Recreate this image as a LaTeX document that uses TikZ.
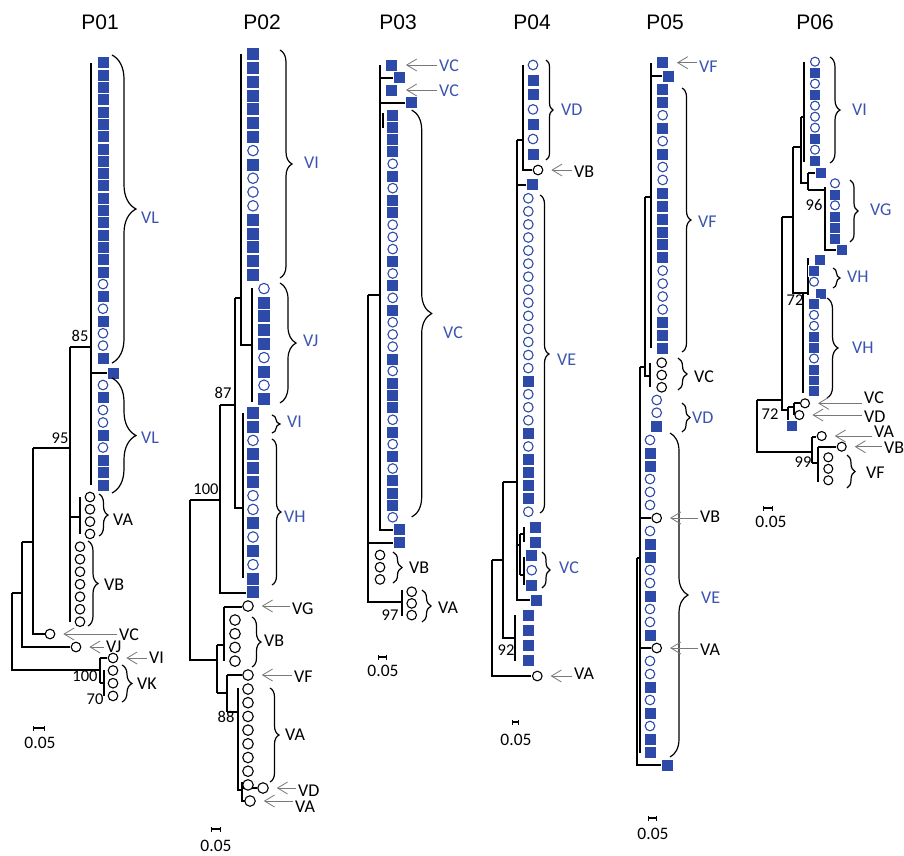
\documentclass[tikz,border=0pt]{standalone}
\usepackage{fontspec}
\setmainfont{Carlito}
\newfontfamily\titlefont{Liberation Sans}
\usetikzlibrary{arrows.meta,decorations.pathreplacing}
\definecolor{pblue}{RGB}{46,74,168}
\definecolor{lblue}{RGB}{58,84,176}
\definecolor{agray}{RGB}{120,120,120}

\tikzset{
leafS/.style={rectangle,fill=pblue,draw=white,line width=0.5pt,minimum size=12pt,inner sep=0pt},
leafC/.style={circle,fill=white,draw=pblue,line width=1.1pt,minimum size=9.6pt,inner sep=0pt},
leafK/.style={circle,fill=white,draw=black,line width=1.1pt,minimum size=9.6pt,inner sep=0pt},
br/.style={line width=1.3pt},
cbr/.style={decorate,decoration={brace,amplitude=#1},line width=1.2pt},
blab/.style={anchor=west,inner sep=0pt,text=lblue,font=\fontsize{18}{18}\selectfont},
klab/.style={anchor=west,inner sep=0pt,font=\fontsize{18}{18}\selectfont},
boot/.style={inner sep=0pt,font=\fontsize{16.5}{16.5}\selectfont},
ptr/.style={draw=agray,line width=0.8pt,-{Straight Barb[length=10pt,width=12pt]},shorten <=2pt,shorten >=8pt},
ttl/.style={inner sep=0pt,font=\titlefont\fontsize{21}{21}\selectfont},
sbar/.style={line width=1.3pt,{Bar[width=5pt]}-{Bar[width=5pt]}},
sval/.style={inner sep=0pt,font=\fontsize{17.5}{17.5}\selectfont}
}

\begin{document}
\begin{tikzpicture}[x=1pt,y=-1pt]
\useasboundingbox (0,0) rectangle (904,855);

% ---------- P01 ----------
\node[ttl] (t1) at (100,22) {P01};

\draw[br] (91,63) -- (91,485);
\draw[br] (91,373) -- (107,373);
\draw[br] (70,347) -- (91,347);
\draw[br] (70,347) -- (70,622);
\draw[br] (70,517) -- (80,517);
\draw[br] (80,497) -- (80,534);
\draw[br] (33,448) -- (70,448);
\draw[br] (33,448) -- (33,634) -- (45,634);
\draw[br] (22,542) -- (33,542);
\draw[br] (22,542) -- (22,647) -- (70,647);
\draw[br] (12,593) -- (22,593);
\draw[br] (12,593) -- (12,670) -- (100,670);
\draw[br] (100,658) -- (100,683);
\draw[br] (100,658) -- (107,658);
\draw[br] (100,683) -- (104,683);
\draw[br] (104,670) -- (104,696);

\foreach \t [count=\i from 0] in {S,S,S,S,S,S,S,S,S,S,S,S,S,S,S,S,S,S,C,S,C,S,C,C,S}
  \node[leaf\t] (p1a\i) at (103,{62.7+12.3*\i}) {};
\node[leafS] (p1x) at (113,373) {};
\foreach \t [count=\i from 0] in {C,S,C,C,S,C,S,S,S}
  \node[leaf\t] (p1b\i) at (103,{385+12.5*\i}) {};
\foreach \i in {0,...,3}
  \node[leafK] (p1va\i) at (90,{497+12.3*\i}) {};
\foreach \i in {0,...,6}
  \node[leafK] (p1vb\i) at (80,{546.7+12.5*\i}) {};
\node[leafK] (p1vc) at (50,634) {};
\node[leafK] (p1vj) at (76,647) {};
\node[leafK] (p1vi) at (113,658) {};
\foreach \i in {0,1,2}
  \node[leafK] (p1vk\i) at (113,{670.5+12.7*\i}) {};

\draw[cbr=24] (112,55) -- (112,363);
\node[blab] (l1vl1) at (141,218) {VL};
\draw[cbr=24] (112,378) -- (112,493);
\node[blab] (l1vl2) at (141,438) {VL};
\draw[cbr=9] (99,494) -- (99,536);
\node[klab] (l1va) at (113,520) {VA};
\draw[cbr=10] (88,541) -- (88,626);
\node[klab] (l1vb) at (104,585) {VB};
\node[klab] (l1vc) at (119,635) {VC};
\draw[ptr] (l1vc.west |- p1vc) -- (p1vc.east);
\node[klab] (l1vj) at (106,647) {VJ};
\draw[ptr] (l1vj.west |- p1vj) -- (p1vj.east);
\node[klab] (l1vi) at (149,658) {VI};
\draw[ptr] (l1vi.west |- p1vi) -- (p1vi.east);
\draw[cbr=10] (122,665) -- (122,702);
\node[klab] (l1vk) at (137,684) {VK};

\node[boot] (b1a) at (80,336) {85};
\node[boot] (b1b) at (60,438) {95};
\node[boot] (b1c) at (85,676) {100};
\node[boot] (b1d) at (95,699) {70};

\draw[sbar] (33,728) -- (45,728);
\node[sval] (s1) at (40,743) {0.05};

% ---------- P02 ----------
\node[ttl] (t2) at (262,22) {P02};

\draw[br] (190,500) -- (220,500);
\draw[br] (190,500) -- (190,660) -- (217,660);
\draw[br] (220,405) -- (220,593) -- (247,593);
\draw[br] (220,405) -- (235,405);
\draw[br] (235,298) -- (235,508) -- (243,508);
\draw[br] (235,298) -- (241,298);
\draw[br] (241,54) -- (241,345) -- (252,345);
\draw[br] (252,288) -- (252,402);
\draw[br] (243,413) -- (243,578);
\draw[br] (217,645) -- (217,693);
\draw[br] (217,645) -- (224,645);
\draw[br] (224,607) -- (224,661);
\draw[br] (224,607) -- (242,607);
\draw[br] (217,693) -- (227,693);
\draw[br] (227,675) -- (227,712);
\draw[br] (227,675) -- (242,675);
\draw[br] (227,712) -- (238,712);
\draw[br] (238,688) -- (238,790) -- (242,790);
\draw[br] (242,782) -- (242,801) -- (245,801);
\draw[br] (242,788) -- (257,788);

\begin{scope}[leafS/.append style={minimum size=13pt},
  leafC/.append style={minimum size=10.5pt},
  leafK/.append style={minimum size=10.5pt}]
\foreach \t [count=\i from 0] in {S,S,S,S,S,S,S,C,S,C,C,C,S,S,S,S,S}
  \node[leaf\t] (p2a\i) at (253,{54+13.8*\i}) {};
\foreach \t [count=\i from 17] in {C,S,S,S,S,C,S,C,S}
  \node[leaf\t] (p2b\i) at (264,{54+13.8*\i}) {};
\foreach \t [count=\i from 26] in {S,S,C,S,S,S,C,C,S,C,S,C,S,S}
  \node[leaf\t] (p2c\i) at (253,{54+13.8*\i}) {};
\node[leafK] (p2vg) at (248,606) {};
\foreach \i in {0,...,3}
  \node[leafK] (p2vb\i) at (235,{620+13.7*\i}) {};
\node[leafK] (p2vf) at (248,675) {};
\foreach \i in {0,...,7}
  \node[leafK] (p2va\i) at (248,{689+13.7*\i}) {};
\node[leafK] (p2vd) at (263,788) {};
\node[leafK] (p2vz) at (250,801) {};
\end{scope}

\draw[cbr=12] (280,50) -- (280,278);
\node[blab] (l2vi1) at (304,163) {VI};
\draw[cbr=16] (280,283) -- (280,403);
\node[blab] (l2vj) at (303,341) {VJ};
\draw[cbr=8] (272,415) -- (272,433);
\node[blab] (l2vi2) at (287,422) {VI};
\draw[cbr=9] (272,439) -- (272,585);
\node[blab] (l2vh) at (284,517) {VH};
\node[klab] (l2vg) at (292,609) {VG};
\draw[ptr] (l2vg.west |- p2vg) -- (p2vg.east);
\draw[cbr=9] (252,617) -- (252,667);
\node[klab] (l2vb) at (264,641) {VB};
\node[klab] (l2vf) at (294,677) {VF};
\draw[ptr] (l2vf.west |- p2vf) -- (p2vf.east);
\draw[cbr=9] (270,688) -- (270,782);
\node[klab] (l2va) at (285,735) {VA};
\node[klab] (l2vd) at (298,791) {VD};
\draw[ptr] (l2vd.west |- p2vd) -- (p2vd.east);
\node[klab] (l2vz) at (295,807) {VA};
\draw[ptr] (l2vz.west |- p2vz) -- (p2vz.east);

\node[boot] (b2a) at (223,393) {87};
\node[boot] (b2b) at (206,489) {100};
\node[boot] (b2c) at (226,717) {88};

\draw[sbar] (211,829) -- (221,829);
\node[sval] (s2) at (216,846) {0.05};

% ---------- P03 ----------
\node[ttl] (t3) at (398,22) {P03};

\draw[br] (368,295) -- (380,295);
\draw[br] (368,295) -- (368,602) -- (402,602);
\draw[br] (402,590) -- (402,616);
\draw[br] (368,543) -- (393,543);
\draw[br] (380,65) -- (380,530) -- (393,530);
\draw[br] (380,78) -- (393,78);
\draw[br] (380,103) -- (405,103);
\draw[br] (383,113) -- (383,128);

\node[leafS] (p3t1) at (391.7,65) {};
\node[leafS] (p3t2) at (399.3,77.3) {};
\node[leafS] (p3t3) at (391.7,90) {};
\node[leafS] (p3t4) at (411.7,102.7) {};
\foreach \t [count=\i from 0] in {S,S,S,S,C,S,C,S,S,C,C,C,S,C,S,C,S,C,C,C,S,C,S,S,S,C,S,C,S,C,S,S,S,C}
  \node[leaf\t] (p3a\i) at (392.7,{115+12.19*\i}) {};
\node[leafS] (p3s1) at (399.3,529.3) {};
\node[leafS] (p3s2) at (399.3,542.3) {};
\foreach \i in {0,1,2}
  \node[leafK] (p3vb\i) at (380,{555+12.2*\i}) {};
\foreach \i in {0,1,2}
  \node[leafK] (p3va\i) at (411.7,{591.7+11.7*\i}) {};

\node[blab] (l3vc1) at (439,66) {VC};
\draw[ptr] (l3vc1.west |- p3t1) -- (p3t1.east);
\node[blab] (l3vc2) at (439,91) {VC};
\draw[ptr] (l3vc2.west |- p3t3) -- (p3t3.east);
\draw[cbr=20] (411.7,110) -- (411.7,517);
\node[blab] (l3vc3) at (443,333) {VC};
\draw[cbr=9] (393,552) -- (393,583);
\node[klab] (l3vb) at (409,568) {VB};
\draw[cbr=9] (422,590) -- (422,622);
\node[klab] (l3va) at (438,608) {VA};

\node[boot] (b3a) at (390,615) {97};

\draw[sbar] (378,657) -- (387,657);
\node[sval] (s3) at (383,671) {0.05};

% ---------- P04 ----------
\node[ttl] (t4) at (532,22) {P04};

\draw[br] (492,560) -- (503,560);
\draw[br] (492,560) -- (492,676) -- (531,676);
\draw[br] (503,482) -- (503,638) -- (515,638);
\draw[br] (515,615) -- (515,661);
\draw[br] (503,482) -- (517,482);
\draw[br] (517,140) -- (517,600) -- (530,600);
\draw[br] (517,140) -- (523,140);
\draw[br] (523,65) -- (523,170) -- (532,170);
\draw[br] (517,185) -- (526,185);
\draw[br] (517,545) -- (520,545);
\draw[br] (520,534) -- (520,575);
\draw[br] (520,534) -- (524,534);
\draw[br] (524,527) -- (524,542);
\draw[br] (520,575) -- (524,575);
\draw[br] (524,557) -- (524,585);

\foreach \t [count=\i from 0] in {C,S,S,C,S,C,S}
  \node[leaf\t] (p4a\i) at (533,{65+14.8*\i}) {};
\node[leafK] (p4vb) at (538,170) {};
\node[leafS] (p4s) at (532.7,184) {};
\foreach \t [count=\i from 0] in {C,C,C,C,C,C,C,C,C,C,C,C,C,C,S,C,C,C,S,C,S,S,S,S,C}
  \node[leaf\t] (p4e\i) at (528.3,{198.3+13.06*\i}) {};
\node[leafS] (p4l1) at (535,527) {};
\node[leafS] (p4l2) at (535,542) {};
\foreach \t [count=\i from 0] in {S,C,S}
  \node[leaf\t] (p4c\i) at (531.7,{555.5+14.7*\i}) {};
\node[leafS] (p4l3) at (536.7,600) {};
\foreach \i in {0,...,3}
  \node[leafS] (p4d\i) at (528.3,{615+15*\i}) {};
\node[leafK] (p4va) at (537.3,676) {};

\draw[cbr=7] (546,60) -- (546,160);
\node[blab] (l4vd) at (561,110) {VD};
\node[klab] (l4vb) at (574,172) {VB};
\draw[ptr] (l4vb.west |- p4vb) -- (p4vb.east);
\draw[cbr=9] (540,195) -- (540,513);
\node[blab] (l4ve) at (557,360) {VE};
\draw[cbr=8] (542,552) -- (542,588);
\node[blab] (l4vc) at (559,568) {VC};
\node[klab] (l4va) at (574,674) {VA};
\draw[ptr] (l4va.west |- p4va) -- (p4va.east);

\node[boot] (b4a) at (506,650) {92};

\draw[sbar] (512,722) -- (519,722);
\node[sval] (s4) at (516,740) {0.05};

% ---------- P05 ----------
\node[ttl] (t5) at (665,22) {P05};

\draw[br] (637,558) -- (640,558);
\draw[br] (637,558) -- (637,765) -- (661,765);
\draw[br] (640,367) -- (640,753);
\draw[br] (640,367) -- (645,367);
\draw[br] (645,197) -- (645,376) -- (650,376);
\draw[br] (650,363) -- (650,387);
\draw[br] (645,197) -- (651,197);
\draw[br] (651,63) -- (651,348);
\draw[br] (651,76) -- (662,76);
\draw[br] (640,518) -- (651,518);
\draw[br] (640,648) -- (651,648);

\node[leafS] (p5t1) at (662.7,62.7) {};
\node[leafS] (p5t2) at (668.3,76) {};
\foreach \t [count=\i from 0] in {S,S,C,S,C,S,C,C,S,S,S,S,S,S,C,C,C,C,S,S,S}
  \node[leaf\t] (p5f\i) at (662.7,{89.3+12.95*\i}) {};
\foreach \i in {0,1,2}
  \node[leafK] (p5vc\i) at (661.7,{362.7+12.3*\i}) {};
\node[leafC] (p5d0) at (656.7,400) {};
\node[leafC] (p5d1) at (656.7,412.7) {};
\node[leafS] (p5d2) at (656.7,426.7) {};
\foreach \t/\dx [count=\i from 0] in {C/0,S/0,S/0,C/0,C/0,C/0,K/6.7,C/0,S/0,S/0,C/0,C/0,S/0,C/0,C/0,S/0,K/6.7,C/0,C/0,S/0,C/0,S/0,C/0,S/0,S/0}
  \node[leaf\t] (p5e\i) at ({650+\dx},{440+13*\i}) {};
\node[leafS] (p5z) at (667.3,765) {};

\node[blab] (l5vf1) at (699,67) {VF};
\draw[ptr] (l5vf1.west |- p5t1) -- (p5t1.east);
\draw[cbr=9] (682,88) -- (682,352);
\node[blab] (l5vf2) at (698,222) {VF};
\draw[cbr=9] (678,358) -- (678,390);
\node[klab] (l5vc) at (694,377) {VC};
\draw[cbr=8] (682,403) -- (682,432);
\node[blab] (l5vd) at (692,418) {VD};
\draw[cbr=18] (670,433) -- (670,757);
\node[blab] (l5ve) at (701,598) {VE};
\node[klab] (l5vb) at (700,517) {VB};
\draw[ptr] (l5vb.west |- p5e6) -- (p5e6.east);
\node[klab] (l5va) at (700,650) {VA};
\draw[ptr] (l5va.west |- p5e16) -- (p5e16.east);

\draw[sbar] (648,818) -- (657,818);
\node[sval] (s5) at (653,834) {0.05};

% ---------- P06 ----------
\node[ttl] (t6) at (815,22) {P06};

\draw[br] (757,400) -- (782,400);
\draw[br] (757,400) -- (757,452) -- (812,452);
\draw[br] (782,217) -- (782,410) -- (788,410);
\draw[br] (788,407) -- (788,426);
\draw[br] (788,407) -- (794,407);
\draw[br] (794,403) -- (794,415);
\draw[br] (794,403) -- (800,403);
\draw[br] (782,217) -- (793,217);
\draw[br] (793,147) -- (793,293) -- (808,293);
\draw[br] (793,147) -- (801,147);
\draw[br] (801,117) -- (801,183) -- (808,183);
\draw[br] (801,117) -- (804,117);
\draw[br] (804,62) -- (804,162);
\draw[br] (808,173) -- (808,190);
\draw[br] (808,173) -- (815,173);
\draw[br] (808,190) -- (825,190);
\draw[br] (825,187) -- (825,250) -- (836,250);
\draw[br] (808,258) -- (808,295);
\draw[br] (803,293) -- (803,393);
\draw[br] (812,437) -- (812,463);
\draw[br] (812,437) -- (816,437);
\draw[br] (812,463) -- (818,463);
\draw[br] (818,447) -- (818,482);
\draw[br] (818,447) -- (836,447);

\begin{scope}[leafS/.append style={minimum size=11pt},
  leafC/.append style={minimum size=9pt},
  leafK/.append style={minimum size=9pt}]
\foreach \t [count=\i from 0] in {C,S,C,S,C,C,C,S,C,S}
  \node[leaf\t] (p6a\i) at (815,{61.7+11*\i}) {};
\node[leafS] (p6s1) at (821,172.7) {};
\foreach \t [count=\i from 0] in {C,S,C,S,S,S}
  \node[leaf\t] (p6g\i) at (835,{183.3+11*\i}) {};
\node[leafS] (p6s2) at (841.7,249.3) {};
\node[leafS] (p6h0) at (819.3,260) {};
\node[leafS] (p6h1) at (814,270.7) {};
\node[leafC] (p6h2) at (814,281.7) {};
\node[leafS] (p6h3) at (821,293.3) {};
\foreach \t [count=\i from 0] in {S,C,C,S,S,C,S,S,S}
  \node[leaf\t] (p6k\i) at (814,{304+10.9*\i}) {};
\node[leafK] (p6vc) at (805,403.3) {};
\node[leafK] (p6vd) at (799.3,415) {};
\node[leafS] (p6s3) at (791.7,426) {};
\node[leafK] (p6va) at (821.7,436) {};
\node[leafK] (p6vb) at (841.7,446.7) {};
\foreach \i in {0,1,2}
  \node[leafK] (p6vf\i) at (828.3,{457.3+11.5*\i}) {};
\end{scope}

\draw[cbr=10] (830,57) -- (830,163);
\node[blab] (l6vi) at (852,110) {VI};
\draw[cbr=8] (850,180) -- (850,242);
\node[blab] (l6vg) at (870,210) {VG};
\draw[cbr=7] (833,268) -- (833,288);
\node[blab] (l6vh1) at (847,277) {VH};
\draw[cbr=11] (827,298) -- (827,398);
\node[blab] (l6vh2) at (852,348) {VH};
\node[klab] (l6vc) at (864,398) {VC};
\draw[ptr] (l6vc.west |- p6vc) -- (p6vc.east);
\node[klab] (l6vd) at (864,417) {VD};
\draw[ptr] (l6vd.west |- p6vd) -- (p6vd.east);
\node[klab] (l6va) at (874,432) {VA};
\draw[ptr] (l6va.west |- p6va) -- (p6va.east);
\node[klab] (l6vb) at (884,448) {VB};
\draw[ptr] (l6vb.west |- p6vb) -- (p6vb.east);
\draw[cbr=8] (847,455) -- (847,488);
\node[klab] (l6vf) at (866,473) {VF};

\node[boot] (b6a) at (814,205) {96};
\node[boot] (b6b) at (795,300) {72};
\node[boot] (b6c) at (770,414) {72};
\node[boot] (b6d) at (803,462) {99};

\draw[sbar] (763,508) -- (773,508);
\node[sval] (s6) at (771,522) {0.05};

\end{tikzpicture}
\end{document}
